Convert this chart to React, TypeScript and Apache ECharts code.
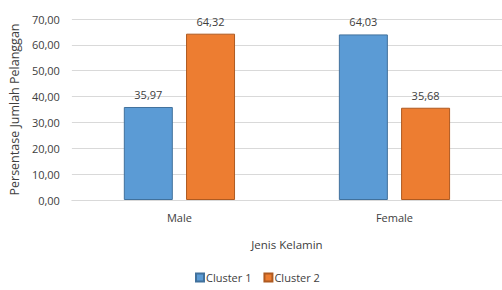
import React, { useEffect, useRef } from "react";
import * as echarts from "echarts";

const categories = ["Male", "Female"];
const cluster1 = [35.97, 64.03];
const cluster2 = [64.32, 35.68];
const seriesNames = ["Cluster 1", "Cluster 2"];
const yTicks = { min: 0, max: 70, interval: 10 };

const fmt = (v: number) => v.toFixed(2).replace(".", ",");
const FONT = "'Open Sans', 'Noto Sans', sans-serif";

export default function App() {
  const ref = useRef<HTMLDivElement>(null);
  useEffect(() => {
    if (!ref.current) return;
    const chart = echarts.init(ref.current, null, { renderer: "svg" });
    const labelStyle = {
      show: true,
      position: "top" as const,
      distance: 7,
      color: "#404040",
      fontSize: 11,
      fontFamily: FONT,
      formatter: (p: any) => fmt(p.value),
    };
    chart.setOption({
      animation: false,
      textStyle: { fontFamily: FONT },
      grid: { left: 70, top: 19, width: 436, bottom: 90, containLabel: false },
      legend: {
        data: seriesNames,
        top: 272,
        left: 195,
        padding: 0,
        icon: "rect",
        itemWidth: 8,
        itemHeight: 8,
        itemGap: 12,
        textStyle: { color: "#404040", fontSize: 11, fontFamily: FONT, padding: [0, 0, 0, -3] },
      },
      xAxis: {
        type: "category",
        data: categories,
        name: "Jenis Kelamin",
        nameLocation: "middle",
        nameGap: 38,
        nameTextStyle: { color: "#404040", fontSize: 11.5, fontFamily: FONT },
        axisLine: { lineStyle: { color: "#d9d9d9" } },
        axisTick: { show: false },
        axisLabel: { color: "#404040", fontSize: 11, margin: 12, fontFamily: FONT },
      },
      yAxis: {
        type: "value",
        min: yTicks.min,
        max: yTicks.max,
        interval: yTicks.interval,
        name: "Persentase Jumlah Pelanggan",
        nameLocation: "middle",
        nameGap: 50,
        nameTextStyle: { color: "#404040", fontSize: 12.5, fontFamily: FONT },
        axisLine: { show: false },
        axisTick: { show: false },
        splitLine: { lineStyle: { color: "#d9d9d9" } },
        axisLabel: {
          color: "#404040",
          fontSize: 11,
          margin: 12,
          fontFamily: FONT,
          formatter: (v: number) => fmt(v),
        },
      },
      series: [
        {
          name: seriesNames[0],
          type: "bar",
          data: cluster1,
          barWidth: 49,
          barGap: "27%",
          itemStyle: { color: "#5B9BD5", borderColor: "#41719C", borderWidth: 1 },
          label: labelStyle,
        },
        {
          name: seriesNames[1],
          type: "bar",
          data: cluster2,
          barWidth: 49,
          itemStyle: { color: "#ED7D31", borderColor: "#AE5A21", borderWidth: 1 },
          label: labelStyle,
        },
      ],
    });
    return () => chart.dispose();
  }, []);
  return (
    <div
      ref={ref}
      style={{ position: "absolute", left: 0, top: 0, width: 502, height: 290 }}
    />
  );
}
